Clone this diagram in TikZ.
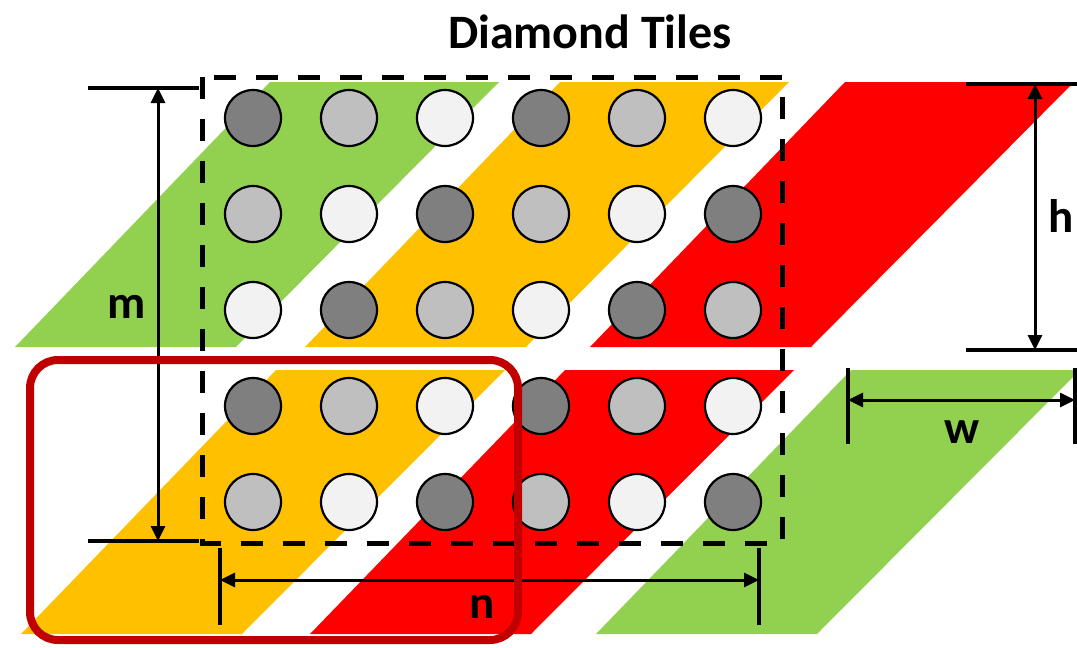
\documentclass[tikz,border=0pt]{standalone}
\usepackage{fontspec}
\setmainfont{Carlito}
\usetikzlibrary{arrows.meta}
\definecolor{tilegreen}{HTML}{92D050}
\definecolor{tileyellow}{HTML}{FFC000}
\definecolor{tilered}{HTML}{FF0000}
\definecolor{framered}{HTML}{C00000}
\definecolor{dotdark}{HTML}{7F7F7F}
\definecolor{dotmid}{HTML}{BFBFBF}
\definecolor{dotlight}{HTML}{F2F2F2}
\begin{document}
\begin{tikzpicture}[x=1pt,y=-1pt,
  dot/.style={circle, draw=black, line width=2.2pt, minimum size=56pt, inner sep=0pt},
  dot0/.style={dot, fill=dotdark},
  dot1/.style={dot, fill=dotmid},
  dot2/.style={dot, fill=dotlight},
  extline/.style={line width=4pt},
  dimline/.style={line width=3pt, {Triangle[length=15pt,width=14pt]}-{Triangle[length=15pt,width=14pt]}},
  dimlabel/.style={font=\fontsize{47}{50}\selectfont\bfseries, inner sep=0pt},
  tilebox/.style={line width=5pt, dash pattern=on 22pt off 20pt},
  groupframe/.style={draw=framered, line width=8pt, rounded corners=28pt},
]
\useasboundingbox (0,0) rectangle (1077,648);

% title
\node[font=\fontsize{48}{52}\selectfont\bfseries, inner sep=0pt] (title) at (590,32) {Diamond Tiles};

% slanted tiles, upper band
\foreach \x/\c in {15/tilegreen, 305/tileyellow, 590/tilered}
  \fill[\c] (\x,347) -- (\x+221,347) -- (\x+484,82) -- (\x+255,82) -- cycle;
% slanted tiles, lower band
\foreach \x/\c in {21/tileyellow, 310/tilered, 596/tilegreen}
  \fill[\c] (\x,634) -- (\x+221,634) -- (\x+484,370) -- (\x+255,370) -- cycle;

% dashed tile outline
\draw[tilebox] (202.5,77) rectangle (782,543);

% grid of points, shade cycles along anti-diagonals
\foreach \r [count=\i from 0] in {118,214,310,406,502}
  \foreach \col in {0,...,5} {
    \pgfmathtruncatemacro\k{mod(\i+\col,3)}
    \node[dot\k] (p-\i-\col) at (253+96*\col,\r) {};
  }

% m : vertical extent
\coordinate (mTL) at (88,88);  \coordinate (mTR) at (199,88);
\coordinate (mBL) at (88,541); \coordinate (mBR) at (199,541);
\coordinate (mT) at (158,88);  \coordinate (mB) at (158,541);
\draw[extline] (mTL) -- (mTR);
\draw[extline] (mBL) -- (mBR);
\draw[dimline] (mT) -- (mB);
\node[dimlabel] (mlab) at (127,307) {m};

% h : tile height
\coordinate (hTL) at (966,84);  \coordinate (hTR) at (1077,84);
\coordinate (hBL) at (966,350); \coordinate (hBR) at (1077,350);
\coordinate (hT) at (1035,84);  \coordinate (hB) at (1035,350);
\draw[extline] (hTL) -- (hTR);
\draw[extline] (hBL) -- (hBR);
\draw[dimline] (hT) -- (hB);
\node[dimlabel] (hlab) at (1061,216) {h};

% w : tile width
\coordinate (wLT) at (848,368); \coordinate (wLB) at (848,444);
\coordinate (wRT) at (1075,368); \coordinate (wRB) at (1075,444);
\coordinate (wL) at (848,400);  \coordinate (wR) at (1075,400);
\draw[extline] (wLT) -- (wLB);
\draw[extline] (wRT) -- (wRB);
\draw[dimline] (wL) -- (wR);
\node[dimlabel] (wlab) at (962,432) {w};

% n : horizontal extent
\coordinate (nLT) at (220,548); \coordinate (nLB) at (220,625);
\coordinate (nRT) at (759,548); \coordinate (nRB) at (759,625);
\coordinate (nL) at (220,580);  \coordinate (nR) at (759,580);
\draw[extline] (nLT) -- (nLB);
\draw[extline] (nRT) -- (nRB);
\draw[dimline] (nL) -- (nR);
\node[dimlabel] (nlab) at (482,607) {n};

% highlighted group
\draw[groupframe] (30,360) rectangle (518,640);
\end{tikzpicture}
\end{document}
